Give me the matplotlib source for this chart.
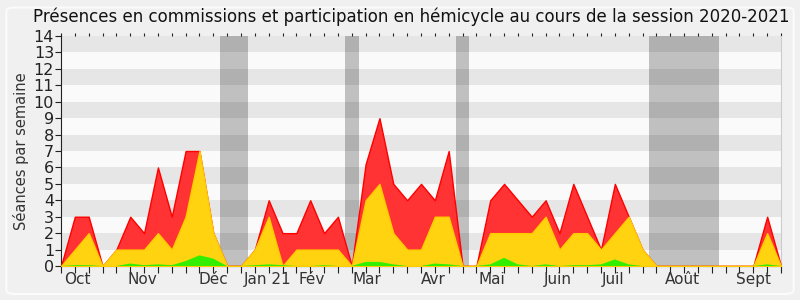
import numpy as np
import matplotlib
matplotlib.use('Agg')
import matplotlib.pyplot as plt
from matplotlib.patches import FancyBboxPatch

# Weekly values, session 2020-2021 (53 weeks)
total = [0, 3, 3, 0, 1, 3, 2, 6, 3, 7, 7, 2, 0,
         0, 1, 4, 2, 2, 4, 2, 3, 0,
         6.2, 9, 5, 4, 5, 4, 7, 0,
         0, 4, 5, 4, 3, 4, 2, 5, 3, 1, 5, 3, 1, 0,
         0, 0, 0, 0, 0, 0, 0, 3, 0]
commission = [0, 1, 2, 0, 1, 1, 1, 2, 1, 3, 7, 2, 0,
              0, 1, 3, 0, 1, 1, 1, 1, 0,
              4, 5, 2, 1, 1, 3, 3, 0,
              0, 2, 2, 2, 2, 3, 1, 2, 2, 1, 2, 3, 1, 0,
              0, 0, 0, 0, 0, 0, 0, 2, 0]
hemicycle = [0, 0.05, 0.05, 0, 0, 0.15, 0.05, 0.1, 0.05, 0.3, 0.65, 0.45, 0,
             0, 0.05, 0.1, 0.05, 0, 0, 0.05, 0, 0,
             0.25, 0.25, 0.1, 0, 0, 0.15, 0.1, 0,
             0, 0.1, 0.5, 0.1, 0, 0.1, 0, 0.05, 0.05, 0.1, 0.4, 0.1, 0, 0,
             0, 0, 0, 0, 0, 0, 0, 0.1, 0]
# Vacation periods (in weeks)
vacances = [(11.5, 13.5), (20.5, 21.5), (28.5, 29.5), (42.5, 47.5)]
mois = ["Oct", "Nov", "Déc", "Jan 21", "Fév", "Mar", "Avr", "Mai", "Juin", "Juil", "Août", "Sept"]
mois_pos = [1.2, 5.9, 11.0, 14.9, 18.1, 22.1, 26.9, 31.1, 35.9, 39.9, 44.9, 50.0]

weeks = np.arange(len(total))

fig = plt.figure(figsize=(8, 3), dpi=100)
fig.patch.set_facecolor('#f0f0f0')
# rounded frame around the figure
frame = FancyBboxPatch((0.008, 0.02), 0.984, 0.955, boxstyle="round,pad=0,rounding_size=0.012",
                       transform=fig.transFigure, facecolor='none', edgecolor='#fbfbfb', linewidth=1.5)
fig.patches.append(frame)

ax = fig.add_axes([0.07625, 0.1133, 0.9, 0.7667])
ax.set_facecolor('#fafafa')

# vacation bands, then stripes on top of them
for (a, b) in vacances:
    ax.axvspan(a, b, color='#c0c0c0', lw=0, zorder=1)
for y in range(1, 14, 2):
    ax.axhspan(y, y + 1, color='black', alpha=0.08, lw=0, zorder=2)

ax.fill_between(weeks, 0, total, facecolor='#ff3333', edgecolor='#ff0000', lw=1, zorder=3)
ax.fill_between(weeks, 0, commission, facecolor='#ffd30f', edgecolor='#ffcc00', lw=1, zorder=4)
ax.fill_between(weeks, 0, hemicycle, facecolor='#33ee00', lw=0, zorder=5)

ax.set_xlim(0, len(total) - 1)
ax.set_ylim(0, 14)
ax.set_yticks(range(0, 15))
ax.tick_params(axis='y', labelsize=11.5, length=4, pad=1, colors='#222222')
ax.set_xticks(weeks)
ax.set_xticklabels([])
ax.tick_params(axis='x', length=5, top=True, bottom=True, colors='#222222')
for t in ax.xaxis.get_major_ticks():
    t.tick2line.set_markersize(2)
for p, m in zip(mois_pos, mois):
    ax.text(p, -0.35, m, ha='center', va='top', fontsize=11, color='#333333')

ax.set_ylabel("Séances par semaine", fontsize=10.5, color='#333333', labelpad=3)
fig.text(0.514, 0.943, "Présences en commissions et participation en hémicycle au cours de la session 2020-2021",
         ha='center', va='center', fontsize=12, color='#111111')

ax.spines['top'].set_visible(False)
ax.spines['right'].set_color('#cccccc')
ax.spines['left'].set_color('#222222')
ax.spines['bottom'].set_color('#222222')

fig.savefig('out.png', dpi=100, facecolor=fig.get_facecolor())
